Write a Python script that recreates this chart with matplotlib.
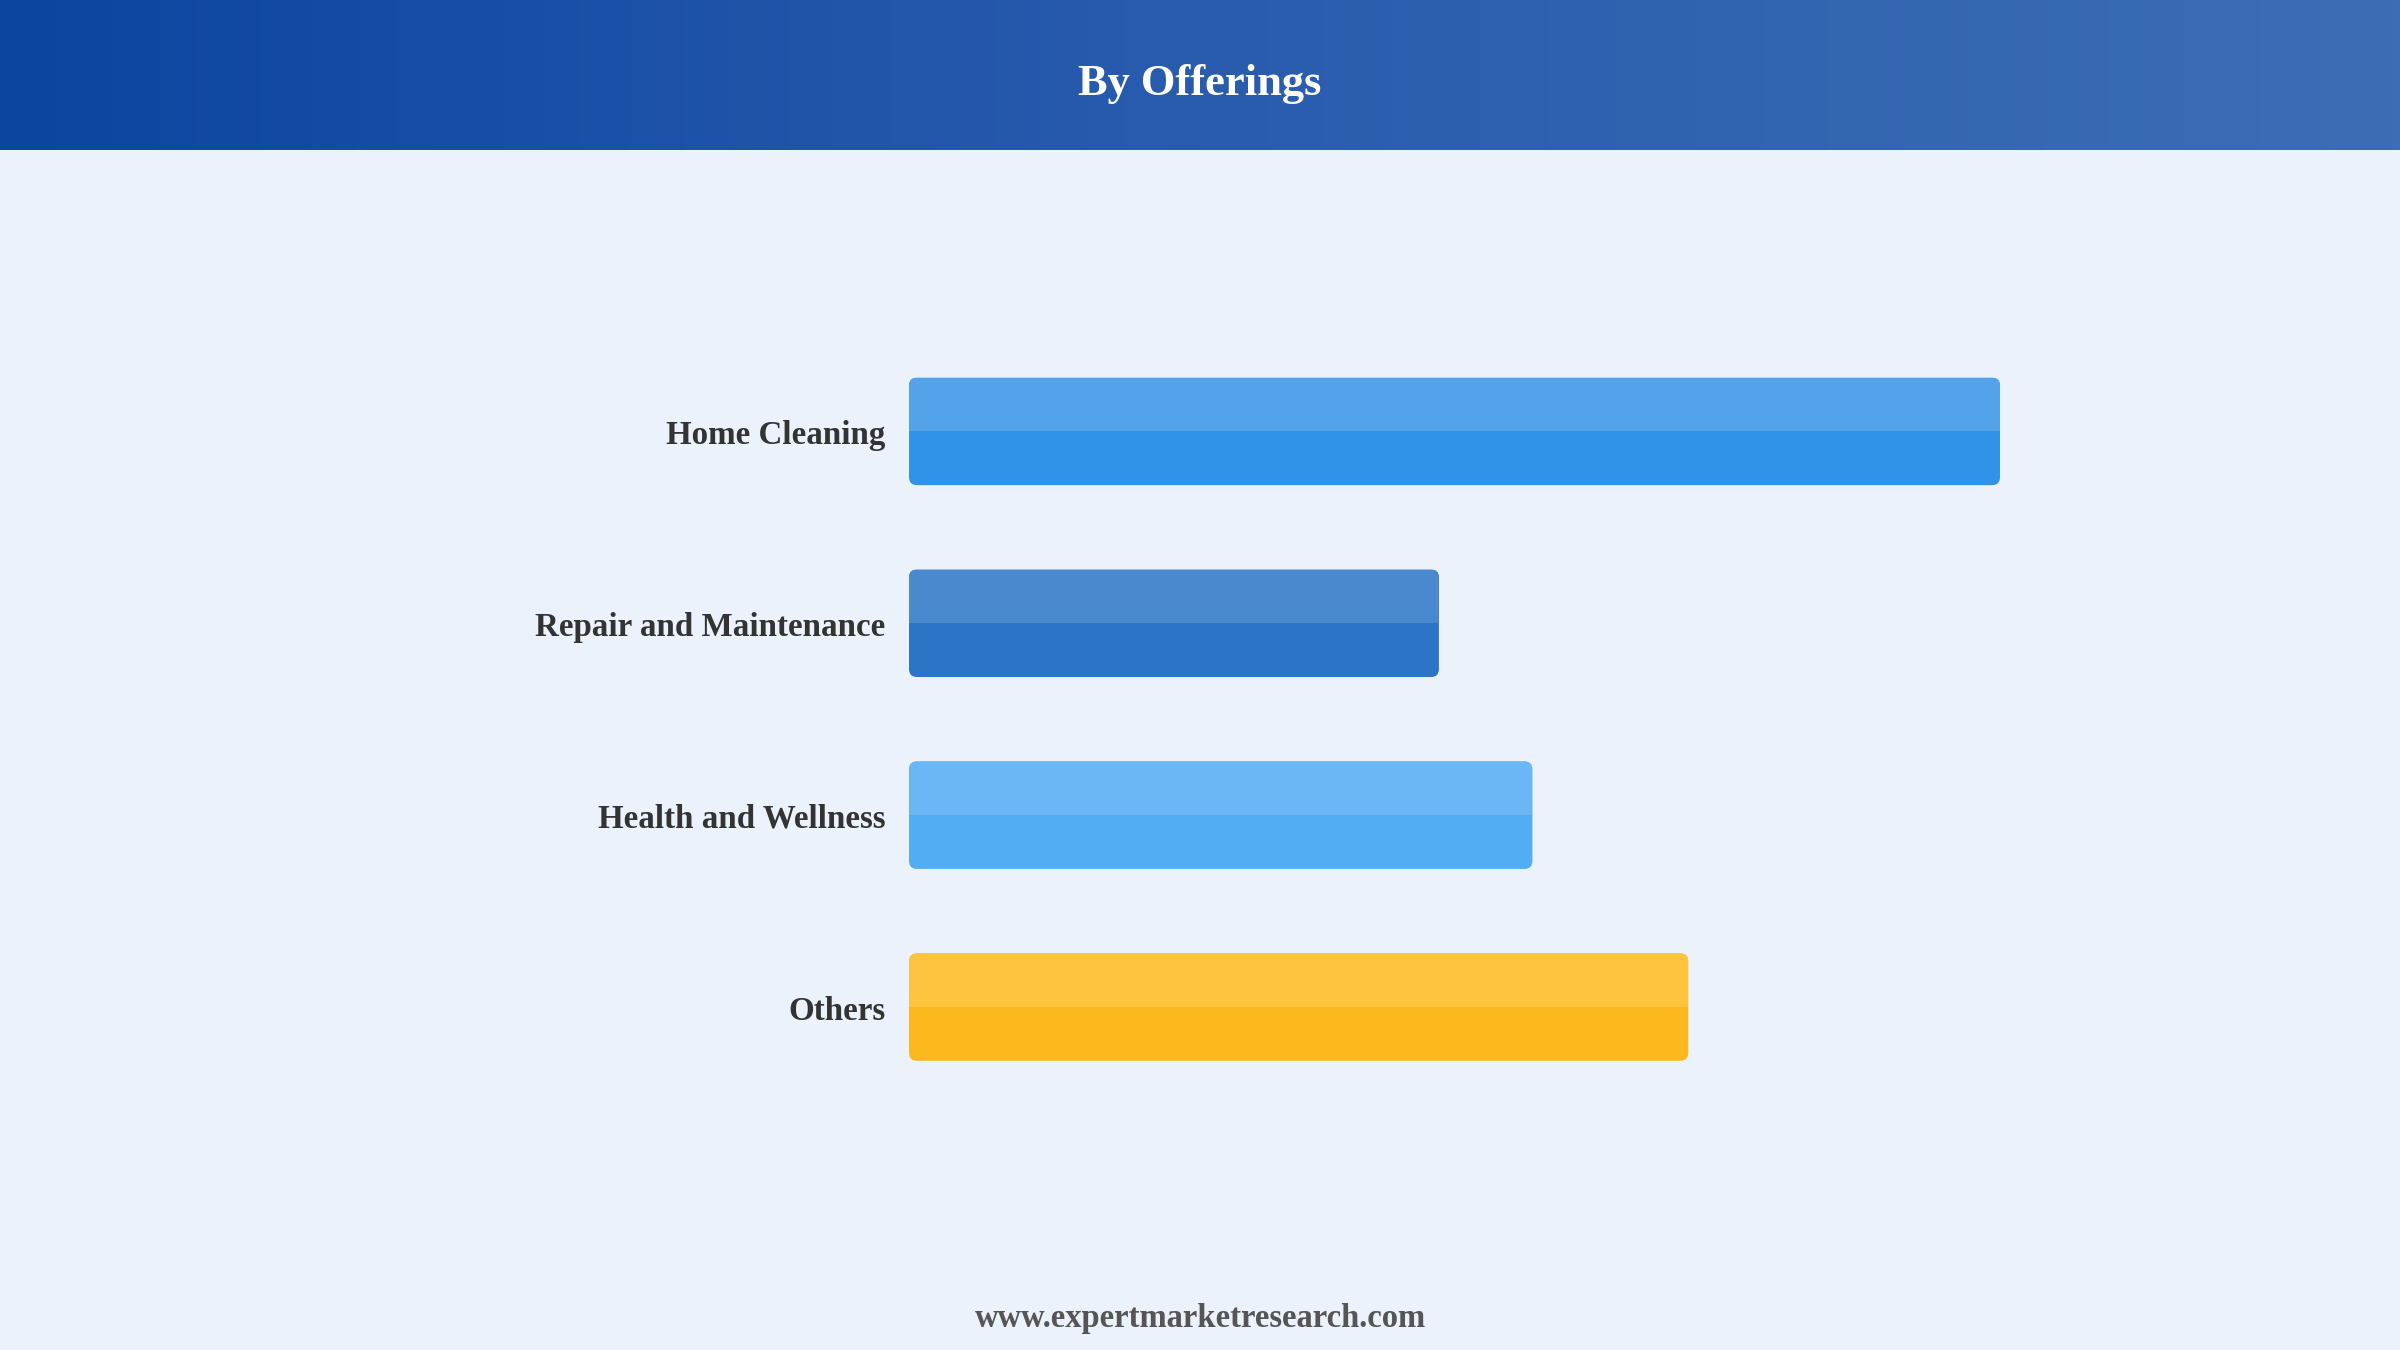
import matplotlib
matplotlib.use("Agg")
import matplotlib.pyplot as plt
import numpy as np
from matplotlib.patches import FancyBboxPatch, Rectangle
from matplotlib.colors import LinearSegmentedColormap

# data
categories = ["Home Cleaning", "Repair and Maintenance", "Health and Wellness", "Others"]
values = [35, 17, 20, 25]
colors_bottom = ["#3193E7", "#2C75C6", "#52ADF3", "#FDB81E"]
colors_top = ["#52A3EA", "#4B89CE", "#6BB7F5", "#FEC33F"]

title = "By Offerings"
footer = "www.expertmarketresearch.com"

W, H = 2400, 1350
bg = "#EBF2FB"
serif = ["Liberation Serif", "DejaVu Serif"]

fig = plt.figure(figsize=(W / 100, H / 100), dpi=100, facecolor=bg)

# header band with horizontal gradient
hax = fig.add_axes([0, 1 - 150 / H, 1, 150 / H])
grad = LinearSegmentedColormap.from_list("hdr", ["#0B45A0", "#2A5CAE", "#3D6DB5"])
hax.imshow(np.linspace(0, 1, 256).reshape(1, -1), aspect="auto", cmap=grad,
           extent=[0, 1, 0, 1])
hax.set_xlim(0, 1)
hax.set_ylim(0, 1)
hax.axis("off")
hax.text(0.5, 0.44, title, color="white", fontsize=32, fontweight="bold",
         family=serif, ha="center", va="center")

# bar area: x=0 at px 909, 35 units = 1091 px
px_per_unit = 1091 / 35
xmax = 40
left = 909 / W
width = xmax * px_per_unit / W
top_px, bot_px = 335.5, 1103
ax = fig.add_axes([left, 1 - bot_px / H, width, (bot_px - top_px) / H])
ax.set_facecolor(bg)
ax.set_xlim(0, xmax)
ax.set_ylim(len(categories) - 0.5, -0.5)
ax.axis("off")

bar_h = 0.56
unit_y_px = (bot_px - top_px) / len(categories)
r_px = 8
rx = r_px / px_per_unit
ry = r_px / unit_y_px

bars = ax.barh(range(len(categories)), values, height=bar_h, color="none")
for i, b in enumerate(bars):
    x0, y0 = b.get_x(), b.get_y()
    w, h = b.get_width(), b.get_height()
    b.set_visible(False)
    body = FancyBboxPatch((x0, y0), w, h,
                          boxstyle=f"round,pad=0,rounding_size={rx}",
                          mutation_aspect=ry / rx,
                          facecolor=colors_bottom[i], edgecolor="none", zorder=2)
    ax.add_patch(body)
    # lighter upper half (y axis inverted: y0 is top)
    hi = Rectangle((x0, y0), w, h / 2, facecolor=colors_top[i],
                   edgecolor="none", zorder=3)
    ax.add_patch(hi)
    hi.set_clip_path(body)
    fig.text((909 - 24) / W, 1 - (435.5 + i * unit_y_px) / H, categories[i],
             ha="right", va="center", fontsize=23.8, fontweight="bold",
             color="#333333", family=serif)

fig.text(0.5, 1 - 1318 / H, footer, ha="center", va="center", fontsize=23.5,
         fontweight="bold", color="#555555", family=serif)

fig.savefig("out.png", dpi=100, facecolor=bg)
